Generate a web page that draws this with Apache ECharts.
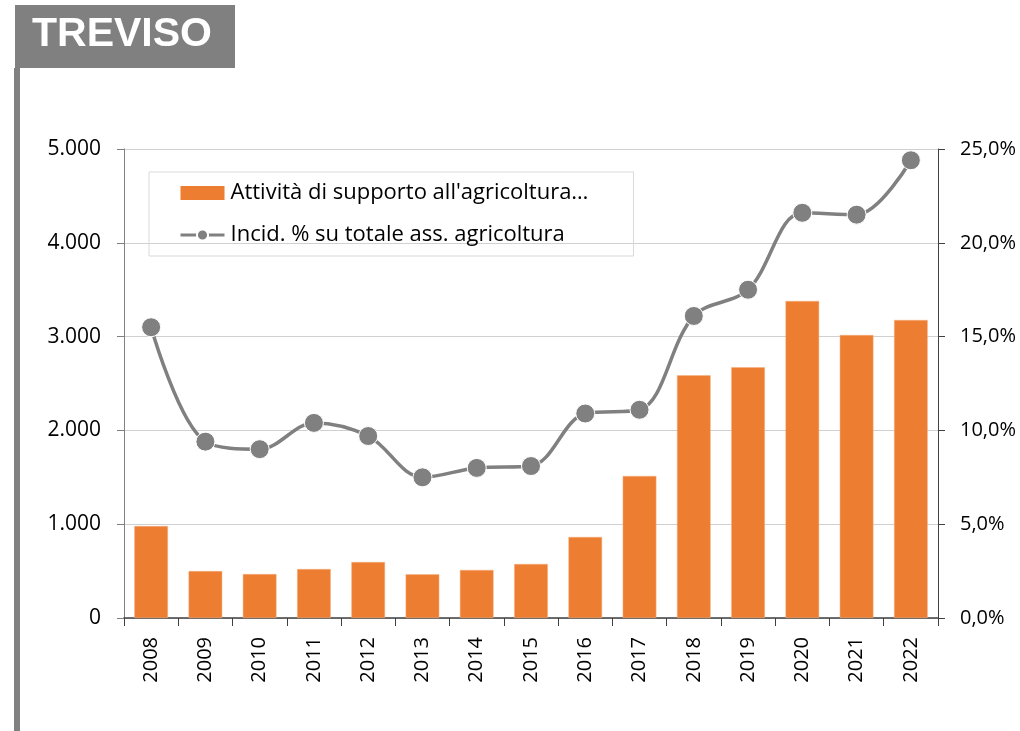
<!DOCTYPE html>
<html><head><meta charset="utf-8">
<script src="https://cdn.jsdelivr.net/npm/echarts@6/dist/echarts.min.js"></script>
<style>html,body{margin:0;padding:0;background:#fff}#c{width:1020px;height:731px}</style>
</head><body><div id="c"></div>
<script>
const years = ['2008','2009','2010','2011','2012','2013','2014','2015','2016','2017','2018','2019','2020','2021','2022'];
const supportValues = [980, 500, 468, 522, 597, 466, 512, 576, 864, 1514, 2587, 2673, 3380, 3017, 3177];
const incidencePct = [15.5, 9.4, 9.0, 10.4, 9.7, 7.5, 8.0, 8.1, 10.9, 11.1, 16.1, 17.5, 21.6, 21.5, 24.4];
const leftTicks = [0, 1000, 2000, 3000, 4000, 5000];
const rightTicks = [0, 5, 10, 15, 20, 25];
const seriesNames = ["Attività di supporto all'agricoltura…", 'Incid. % su totale ass. agricoltura'];
const titleText = 'TREVISO';

const FONT = '"Open Sans", sans-serif';
const chart = echarts.init(document.getElementById('c'), null, {renderer: 'canvas'});
chart.setOption({
  animation: false,
  backgroundColor: '#ffffff',
  graphic: [
    {type: 'rect', left: 15, top: 5, shape: {width: 220, height: 63}, style: {fill: '#808080'}},
    {type: 'rect', left: 14, top: 68, shape: {width: 6, height: 663}, style: {fill: '#808080'}},
    {type: 'text', left: 32, top: 14, style: {text: titleText, fill: '#ffffff', font: 'bold 41px "Liberation Sans", Arial, sans-serif'}}
  ],
  legend: {
    orient: 'vertical', left: 149, top: 172,
    padding: [10, 45, 10, 30], itemGap: 20,
    itemWidth: 44, itemHeight: 14,
    borderColor: '#d9d9d9', borderWidth: 1,
    textStyle: {fontFamily: FONT, fontSize: 22, color: '#000', padding: [0, 0, 0, 1]},
    data: [
      {name: seriesNames[0], icon: 'rect', itemStyle: {borderWidth: 0}},
      {name: seriesNames[1], lineStyle: {width: 3}}
    ]
  },
  grid: {left: 124, right: 82, top: 149, bottom: 113, containLabel: false},
  xAxis: {
    type: 'category', data: years, boundaryGap: true,
    axisLine: {lineStyle: {color: '#404040', width: 1.5}},
    axisTick: {show: true, alignWithLabel: false, length: 8, lineStyle: {color: '#404040'}},
    axisLabel: {rotate: 90, fontFamily: FONT, fontSize: 20, color: '#000', margin: 19}
  },
  yAxis: [
    {
      type: 'value', min: leftTicks[0], max: leftTicks[leftTicks.length - 1], interval: 1000,
      axisLine: {show: true, lineStyle: {color: '#808080'}},
      axisTick: {show: true, length: 7, lineStyle: {color: '#808080'}},
      splitLine: {lineStyle: {color: '#d0d0d0', width: 1}},
      axisLabel: {fontFamily: FONT, fontSize: 21, color: '#000', margin: 23,
        formatter: v => v === 0 ? '0' : String(v).replace(/(\d)(?=(\d{3})+$)/g, '$1.')}
    },
    {
      type: 'value', min: rightTicks[0], max: rightTicks[rightTicks.length - 1], interval: 5,
      position: 'right',
      axisLine: {show: true, lineStyle: {color: '#404040'}},
      axisTick: {show: true, length: 7, lineStyle: {color: '#404040'}},
      splitLine: {show: false},
      axisLabel: {fontFamily: FONT, fontSize: 20, color: '#000', margin: 22,
        formatter: v => v.toFixed(1).replace('.', ',') + '%'}
    }
  ],
  series: [
    {
      name: seriesNames[0], type: 'bar', yAxisIndex: 0, data: supportValues,
      barWidth: '62%',
      itemStyle: {color: '#ed7d31', borderColor: '#f4b183', borderWidth: 0.5}
    },
    {
      name: seriesNames[1], type: 'line', yAxisIndex: 1, data: incidencePct,
      smooth: 0.35, symbol: 'circle', symbolSize: 19,
      lineStyle: {color: '#808080', width: 3.5},
      itemStyle: {color: '#808080', borderColor: '#ffffff', borderWidth: 1}
    }
  ]
});
</script></body></html>
